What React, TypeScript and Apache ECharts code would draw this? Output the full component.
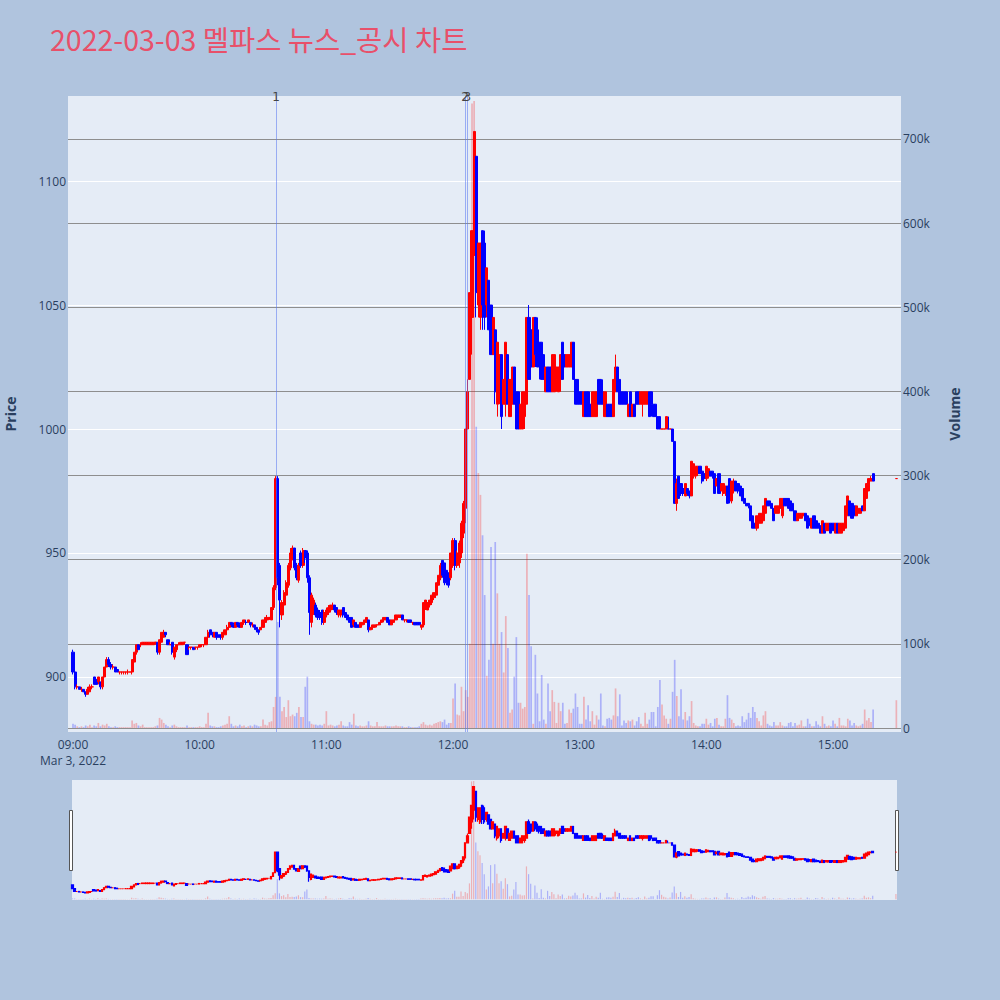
import React, { useEffect, useRef } from "react";
import * as echarts from "echarts";

const titleText = "2022-03-03 멜파스 뉴스_공시 차트";
const dateLabel = "Mar 3, 2022";
const hourTicks = [0, 60, 120, 180, 240, 300, 360];
const hourLabels = ["09:00", "10:00", "11:00", "12:00", "13:00", "14:00", "15:00"];
const priceTicks = [900, 950, 1000, 1050, 1100];
const volumeTicks = [0, 100000, 200000, 300000, 400000, 500000, 600000, 700000];
const volumeTickLabels = ["0", "100k", "200k", "300k", "400k", "500k", "600k", "700k"];
const newsMinutes = [96.2, 185.7, 186.8];
const newsLabels = ["1", "2", "3"];

// minute-by-minute candles from 09:00: [open, close, low, high]
const ohlc: number[][] = [
  [910, 902, 901, 911], [902, 896, 895, 903], [896, 896, 895, 897], [896, 895, 895, 896], [895, 895, 894, 896],
  [895, 894, 894, 895], [894, 893, 892, 894], [893, 895, 893, 896], [894, 896, 894, 897], [896, 896, 895, 897],
  [900, 897, 897, 900], [899, 897, 897, 899], [898, 900, 897, 900], [898, 896, 895, 898], [896, 900, 895, 900],
  [900, 904, 900, 904], [904, 907, 904, 908], [907, 905, 904, 908], [905, 904, 903, 906], [904, 904, 903, 905],
  [904, 902, 902, 904], [903, 902, 902, 903], [902, 902, 901, 902], [902, 902, 901, 902], [902, 902, 901, 902],
  [902, 902, 901, 902], [902, 902, 901, 903], [902, 902, 902, 902], [902, 907, 901, 907], [906, 910, 905, 910],
  [910, 913, 909, 913], [913, 911, 911, 913], [913, 913, 912, 914], [913, 914, 913, 914], [913, 914, 913, 914],
  [913, 914, 913, 914], [913, 914, 913, 914], [913, 914, 913, 914], [913, 914, 913, 914], [914, 914, 913, 914],
  [914, 910, 909, 914], [910, 915, 909, 915], [914, 918, 914, 918], [916, 918, 916, 919], [918, 917, 916, 918],
  [915, 913, 913, 915], [913, 913, 913, 914], [914, 910, 909, 914], [908, 912, 907, 912], [911, 913, 910, 913],
  [913, 913, 913, 914], [913, 914, 913, 914], [913, 914, 913, 914], [914, 914, 913, 914], [913, 909, 909, 913],
  [912, 912, 911, 912], [912, 912, 911, 912], [912, 911, 911, 912], [912, 912, 911, 912], [912, 912, 911, 912],
  [912, 913, 912, 913], [913, 913, 912, 913], [913, 913, 912, 913], [913, 916, 913, 916], [916, 918, 915, 919],
  [919, 917, 916, 919], [918, 917, 916, 918], [916, 918, 916, 918], [918, 916, 915, 918], [917, 916, 916, 917],
  [917, 916, 915, 917], [916, 918, 915, 918], [917, 919, 917, 919], [919, 920, 918, 921], [920, 922, 920, 922],
  [922, 921, 920, 922], [921, 920, 920, 922], [920, 922, 920, 922], [922, 921, 920, 922], [921, 920, 920, 922],
  [920, 922, 920, 922], [922, 923, 921, 923], [922, 922, 921, 923], [922, 923, 922, 923], [922, 921, 920, 922],
  [921, 921, 920, 922], [921, 920, 919, 921], [920, 919, 918, 920], [919, 918, 917, 919], [919, 920, 919, 920],
  [920, 923, 920, 923], [922, 924, 922, 924], [923, 924, 923, 925], [924, 924, 923, 924], [923, 928, 923, 928],
  [928, 936, 927, 937], [936, 980, 935, 981], [980, 940, 937, 981], [945, 931, 920, 946], [925, 930, 923, 931],
  [929, 934, 927, 935], [933, 938, 931, 939], [937, 945, 936, 946], [944, 950, 943, 952], [948, 952, 947, 953],
  [952, 944, 943, 952], [945, 940, 939, 946], [939, 945, 938, 946], [950, 945, 944, 951], [945, 951, 944, 952],
  [951, 948, 946, 951], [950, 940, 938, 951], [940, 926, 917, 941], [922, 933, 920, 934], [926, 931, 925, 932],
  [929, 925, 924, 930], [927, 924, 923, 928], [926, 924, 923, 927], [927, 922, 921, 927], [922, 926, 921, 927],
  [925, 927, 924, 928], [926, 928, 925, 929], [927, 929, 926, 929], [928, 929, 927, 930], [929, 927, 926, 929],
  [928, 926, 925, 928], [925, 927, 924, 927], [925, 927, 924, 927], [928, 925, 924, 928], [926, 924, 924, 926],
  [925, 923, 923, 925], [924, 922, 922, 924], [924, 920, 920, 924], [921, 923, 920, 923], [922, 920, 920, 922],
  [921, 920, 920, 921], [920, 922, 920, 922], [921, 922, 921, 922], [922, 923, 921, 923], [922, 924, 922, 924],
  [923, 919, 918, 923], [919, 920, 919, 920], [920, 921, 919, 921], [920, 921, 920, 921], [921, 921, 920, 921],
  [921, 922, 921, 922], [922, 923, 921, 923], [923, 924, 922, 924], [923, 924, 923, 924], [924, 922, 922, 924],
  [923, 921, 921, 923], [921, 923, 921, 923], [922, 923, 922, 923], [923, 925, 923, 925], [924, 925, 924, 925],
  [924, 925, 924, 925], [925, 923, 923, 925], [923, 923, 922, 923], [923, 923, 922, 923], [923, 922, 922, 923],
  [923, 922, 922, 923], [922, 922, 921, 922], [922, 921, 921, 922], [922, 921, 921, 922], [922, 921, 921, 922],
  [920, 921, 919, 921], [921, 930, 920, 930], [928, 931, 927, 931], [927, 930, 927, 930], [929, 931, 928, 931],
  [930, 933, 929, 933], [932, 934, 931, 934], [933, 938, 932, 938], [937, 941, 936, 941], [940, 945, 939, 946],
  [947, 941, 940, 947], [946, 938, 937, 946], [943, 938, 937, 943], [942, 937, 936, 942], [940, 950, 939, 950],
  [945, 955, 944, 956], [955, 945, 943, 956], [945, 950, 944, 951], [946, 954, 944, 955], [950, 962, 948, 963],
  [958, 970, 956, 971], [968, 1000, 962, 1000], [1000, 1015, 1000, 1020], [1020, 1055, 1020, 1055], [1045, 1080, 1030, 1080],
  [1070, 1120, 1050, 1120], [1110, 1055, 1045, 1110], [1050, 1075, 1045, 1075], [1045, 1075, 1040, 1075], [1080, 1050, 1040, 1080],
  [1075, 1045, 1040, 1080], [1050, 1065, 1045, 1065], [1060, 1040, 1040, 1060], [1050, 1030, 1030, 1050], [1030, 1045, 1030, 1045],
  [1040, 1015, 1010, 1040], [1010, 1035, 1005, 1035], [1015, 1030, 1010, 1030], [1030, 1005, 1000, 1030], [1010, 1020, 1010, 1020],
  [1010, 1035, 1005, 1035], [1030, 1010, 1010, 1030], [1005, 1020, 1005, 1020], [1010, 1025, 1010, 1025], [1025, 1010, 1010, 1025],
  [1015, 1000, 1000, 1015], [1015, 1000, 1000, 1015], [1000, 1010, 1000, 1010], [1000, 1015, 1000, 1015], [1005, 1015, 1000, 1015],
  [1010, 1045, 1010, 1045], [1045, 1020, 1020, 1050], [1040, 1025, 1020, 1040], [1025, 1045, 1025, 1045], [1045, 1030, 1025, 1045],
  [1040, 1025, 1025, 1045], [1035, 1025, 1020, 1035], [1035, 1020, 1020, 1035], [1030, 1020, 1020, 1030], [1015, 1025, 1015, 1025],
  [1025, 1015, 1015, 1025], [1025, 1015, 1015, 1025], [1015, 1030, 1015, 1030], [1015, 1030, 1015, 1030], [1020, 1025, 1015, 1025],
  [1015, 1025, 1015, 1025], [1020, 1030, 1015, 1030], [1035, 1020, 1020, 1035], [1030, 1025, 1025, 1030], [1025, 1030, 1025, 1030],
  [1025, 1030, 1025, 1030], [1025, 1035, 1025, 1035], [1035, 1020, 1020, 1035], [1020, 1010, 1010, 1020], [1020, 1010, 1010, 1020],
  [1015, 1010, 1010, 1015], [1015, 1010, 1010, 1015], [1005, 1015, 1005, 1015], [1015, 1005, 1005, 1015], [1015, 1005, 1005, 1015],
  [1010, 1005, 1005, 1010], [1005, 1015, 1005, 1015], [1005, 1015, 1005, 1015], [1005, 1015, 1005, 1015], [1020, 1010, 1010, 1020],
  [1020, 1010, 1010, 1020], [1015, 1010, 1010, 1020], [1005, 1015, 1005, 1015], [1010, 1005, 1005, 1010], [1010, 1005, 1005, 1010],
  [1010, 1005, 1005, 1010], [1005, 1020, 1005, 1020], [1015, 1025, 1015, 1030], [1025, 1015, 1015, 1025], [1020, 1010, 1010, 1020],
  [1015, 1010, 1010, 1015], [1015, 1010, 1010, 1015], [1015, 1010, 1010, 1015], [1005, 1010, 1005, 1010], [1015, 1005, 1005, 1015],
  [1005, 1010, 1005, 1010], [1010, 1005, 1005, 1010], [1015, 1010, 1010, 1015], [1015, 1010, 1010, 1015], [1010, 1015, 1010, 1015],
  [1010, 1015, 1005, 1015], [1010, 1015, 1010, 1015], [1010, 1015, 1010, 1015], [1015, 1005, 1005, 1015], [1015, 1010, 1005, 1015],
  [1010, 1005, 1005, 1010], [1010, 1005, 1005, 1010], [1005, 1000, 1000, 1005], [1005, 1000, 1000, 1005], [1000, 1000, 1000, 1000],
  [1000, 1000, 1000, 1000], [1000, 1005, 1000, 1005], [1000, 1000, 1000, 1005], [1000, 1000, 1000, 1000], [1000, 995, 995, 1000],
  [995, 970, 970, 995], [970, 978, 967, 980], [981, 972, 972, 981], [978, 974, 973, 978], [976, 974, 973, 976],
  [973, 978, 973, 978], [976, 974, 973, 976], [975, 973, 972, 975], [973, 987, 973, 987], [981, 986, 980, 986],
  [981, 985, 980, 985], [982, 985, 981, 985], [985, 982, 982, 985], [983, 979, 978, 983], [982, 980, 979, 982],
  [980, 985, 979, 985], [981, 984, 980, 984], [983, 981, 981, 983], [983, 981, 980, 983], [982, 974, 974, 982],
  [977, 980, 977, 980], [982, 974, 974, 982], [975, 978, 975, 978], [974, 978, 973, 978], [975, 977, 973, 977],
  [977, 970, 970, 977], [980, 971, 970, 980], [971, 979, 970, 979], [975, 979, 974, 980], [979, 975, 975, 979],
  [978, 975, 974, 978], [977, 973, 973, 977], [976, 971, 971, 976], [972, 970, 970, 972], [970, 969, 969, 970],
  [970, 969, 968, 970], [969, 963, 963, 969], [965, 960, 960, 965], [962, 960, 960, 962], [960, 965, 959, 965],
  [962, 966, 961, 966], [962, 966, 962, 966], [963, 969, 963, 969], [966, 972, 966, 972], [971, 969, 969, 971],
  [971, 969, 969, 971], [970, 968, 968, 970], [968, 963, 963, 968], [966, 969, 966, 969], [966, 969, 966, 969],
  [968, 972, 968, 972], [965, 972, 964, 972], [972, 969, 969, 972], [972, 969, 969, 972], [972, 968, 968, 972],
  [971, 967, 967, 971], [970, 967, 967, 970], [967, 963, 963, 967], [963, 966, 963, 966], [964, 966, 963, 966],
  [964, 966, 964, 966], [965, 966, 965, 966], [966, 963, 963, 966], [965, 960, 960, 965], [964, 961, 961, 964],
  [960, 964, 960, 964], [965, 960, 960, 965], [963, 960, 960, 963], [962, 960, 960, 962], [961, 958, 958, 961],
  [958, 963, 958, 963], [962, 958, 958, 962], [959, 962, 959, 962], [959, 962, 959, 962], [962, 958, 958, 962],
  [962, 959, 959, 962], [958, 962, 958, 962], [962, 958, 958, 962], [958, 962, 958, 962], [958, 962, 958, 962],
  [959, 962, 959, 962], [960, 969, 960, 969], [965, 973, 965, 973], [971, 965, 965, 971], [970, 964, 964, 970],
  [969, 965, 964, 969], [965, 969, 965, 969], [966, 968, 966, 968], [966, 968, 966, 968], [969, 967, 967, 969],
  [967, 976, 967, 976], [972, 978, 972, 978], [975, 980, 975, 980], [979, 980, 979, 981], [982, 979, 979, 982],
];

// minute volumes in thousands, aligned with ohlc
const volumesK: number[] = [
  5, 4, 2, 1, 2, 1, 3, 2, 4, 1,
  3, 2, 6, 2, 4, 3, 5, 2, 1, 1,
  2, 1, 1, 1, 1, 1, 1, 1, 9, 5,
  6, 3, 2, 4, 1, 1, 1, 1, 1, 2,
  3, 12, 10, 6, 4, 2, 1, 3, 4, 2,
  1, 1, 1, 1, 3, 1, 1, 1, 1, 1,
  2, 1, 1, 5, 18, 3, 2, 2, 1, 1,
  2, 3, 4, 5, 14, 5, 2, 3, 2, 4,
  2, 3, 1, 2, 3, 2, 4, 3, 2, 2,
  10, 4, 3, 7, 8, 25, 37, 126, 37, 20,
  25, 13, 33, 14, 16, 14, 18, 25, 13, 13,
  49, 61, 8, 5, 4, 4, 3, 4, 3, 5,
  20, 3, 4, 3, 2, 3, 4, 8, 3, 2,
  2, 7, 4, 17, 3, 2, 3, 2, 2, 3,
  8, 3, 2, 2, 7, 2, 2, 2, 3, 2,
  2, 2, 2, 3, 2, 2, 2, 1, 1, 2,
  1, 1, 1, 1, 2, 5, 7, 4, 3, 4,
  3, 5, 6, 7, 8, 7, 10, 4, 6, 6,
  35, 53, 16, 15, 49, 20, 45, 37, 100, 742,
  745, 358, 303, 277, 229, 158, 62, 81, 215, 100,
  221, 160, 100, 114, 66, 133, 95, 18, 22, 61,
  108, 30, 30, 23, 25, 207, 158, 97, 5, 87,
  41, 8, 63, 10, 5, 53, 20, 45, 31, 6,
  30, 20, 30, 5, 6, 22, 18, 23, 41, 25,
  5, 5, 37, 10, 27, 8, 20, 4, 15, 10,
  41, 3, 2, 11, 12, 10, 15, 47, 14, 40,
  3, 9, 6, 9, 8, 10, 3, 8, 13, 5,
  2, 18, 5, 10, 19, 19, 2, 25, 57, 28,
  15, 11, 5, 11, 43, 81, 38, 14, 46, 10,
  19, 9, 14, 32, 6, 3, 2, 2, 5, 5,
  11, 4, 6, 2, 11, 12, 4, 2, 2, 11,
  39, 12, 10, 6, 2, 3, 2, 14, 7, 10,
  18, 12, 25, 19, 12, 8, 3, 15, 20, 5,
  3, 2, 7, 3, 3, 7, 3, 2, 2, 6,
  7, 2, 6, 3, 4, 9, 2, 2, 11, 5,
  2, 2, 8, 4, 2, 14, 5, 2, 3, 2,
  9, 5, 2, 12, 3, 3, 2, 11, 9, 3,
  6, 3, 2, 3, 5, 22, 9, 12, 7, 22,
];

// closing auction at 15:30
const auctionMinute = 390;
const auctionOhlc = [980, 980, 980, 980];
const auctionVolumeK = 33;

const UP = "#ff0000";
const DOWN = "#0000ff";
const UP_VOL = "rgba(255,0,0,0.25)";
const DOWN_VOL = "rgba(0,0,255,0.25)";
const AXIS_TEXT = "#2a3f5f";
const FONT = "'Open Sans', 'Noto Sans', sans-serif";

const PRICE_MIN = 877.8;
const PRICE_MAX = 1134.3;
const VOL_MIN = -4750;
const VOL_MAX = 751000;

function buildData() {
  const rows: { m: number; o: number[]; v: number }[] = ohlc.map((o, i) => ({ m: i, o, v: volumesK[i] }));
  rows.push({ m: auctionMinute, o: auctionOhlc, v: auctionVolumeK });
  const candles: number[][] = [];
  const vols: any[] = [];
  let prevClose = rows[0].o[0];
  rows.forEach((r) => {
    const [o, c, l, h] = r.o;
    candles.push([r.m, o, c, l, h]);
    let up: boolean;
    if (c > o) up = true;
    else if (c < o) up = false;
    else up = prevClose <= c;
    prevClose = c;
    vols.push({ value: [r.m, r.v * 1000], itemStyle: { color: up ? UP_VOL : DOWN_VOL } });
  });
  return { candles, vols };
}

export default function App() {
  const ref = useRef<HTMLDivElement>(null);
  useEffect(() => {
    document.body.style.margin = "0";
    if (!ref.current) return;
    const chart = echarts.init(ref.current, undefined, { renderer: "svg" });
    const { candles, vols } = buildData();
    const option: any = {
      animation: false,
      backgroundColor: "#b0c4de",
      title: {
        text: titleText,
        left: 45,
        top: 19,
        textStyle: { color: "#e8506a", fontSize: 28.5, fontWeight: "normal", fontFamily: "'Noto Sans CJK KR', 'Open Sans', sans-serif" },
      },
      grid: [
        { left: 68, top: 96, width: 833, height: 636, show: true, backgroundColor: "#e5ecf6", borderWidth: 0, outerBoundsMode: "none", containLabel: false },
        { left: 72, top: 780, width: 825, height: 120, show: true, backgroundColor: "#e5ecf6", borderWidth: 0, outerBoundsMode: "none", containLabel: false },
      ],
      xAxis: [
        {
          type: "value",
          gridIndex: 0,
          min: -2.37,
          max: 392.2,
          axisLine: { show: false },
          axisTick: { show: false, customValues: hourTicks },
          splitLine: { show: false },
          axisLabel: {
            customValues: hourTicks,
            margin: 4,
            color: AXIS_TEXT,
            fontSize: 12,
            fontFamily: FONT,
            lineHeight: 16,
            formatter: (v: number) => {
              const idx = hourTicks.indexOf(v);
              const t = idx >= 0 ? hourLabels[idx] : "";
              return v === 0 ? t + "\n" + dateLabel : t;
            },
          },
        },
        {
          type: "value",
          gridIndex: 1,
          min: -0.25,
          max: 390.5,
          show: false,
          splitLine: { show: false },
        },
      ],
      yAxis: [
        {
          type: "value",
          gridIndex: 0,
          position: "left",
          min: PRICE_MIN,
          max: PRICE_MAX,
          name: "Price",
          nameLocation: "middle",
          nameGap: 51,
          nameRotate: 90,
          nameTextStyle: { color: AXIS_TEXT, fontSize: 14, fontWeight: "bold", fontFamily: FONT },
          axisLine: { show: false },
          axisTick: { show: false, customValues: priceTicks },
          axisLabel: {
            customValues: priceTicks,
            margin: 2,
            color: AXIS_TEXT,
            fontSize: 12,
            fontFamily: FONT,
            formatter: (v: number) => String(Math.round(v)),
          },
          splitLine: { show: true, lineStyle: { color: "#ffffff", width: 1 } },
        },
        {
          type: "value",
          gridIndex: 0,
          position: "right",
          min: VOL_MIN,
          max: VOL_MAX,
          name: "Volume",
          nameLocation: "middle",
          nameGap: 46,
          nameRotate: 90,
          nameTextStyle: { color: AXIS_TEXT, fontSize: 14, fontWeight: "bold", fontFamily: FONT },
          axisLine: { show: false },
          axisTick: { show: false, customValues: volumeTicks },
          axisLabel: {
            customValues: volumeTicks,
            margin: 2,
            color: AXIS_TEXT,
            fontSize: 12,
            fontFamily: FONT,
            formatter: (v: number) => {
              const idx = volumeTicks.indexOf(v);
              return idx >= 0 ? volumeTickLabels[idx] : "";
            },
          },
          splitLine: { show: true, lineStyle: { color: "#8e8e8e", width: 1 } },
        },
        { type: "value", gridIndex: 1, min: PRICE_MIN, max: PRICE_MAX, show: false, splitLine: { show: false } },
        { type: "value", gridIndex: 1, min: VOL_MIN, max: VOL_MAX, show: false, splitLine: { show: false } },
      ],
      series: [
        {
          type: "bar",
          name: "Volume",
          xAxisIndex: 0,
          yAxisIndex: 1,
          data: vols,
          barWidth: 1.7,
          z: 1,
        },
        {
          type: "candlestick",
          name: "Price",
          xAxisIndex: 0,
          yAxisIndex: 0,
          data: candles,
          encode: { x: 0, y: [1, 2, 3, 4] },
          barWidth: 2.6,
          z: 2,
          itemStyle: { color: UP, color0: DOWN, borderColor: UP, borderColor0: DOWN, borderWidth: 1 },
          markLine: {
            silent: true,
            symbol: ["none", "none"],
            lineStyle: { color: "rgba(90,120,240,0.55)", width: 1, type: "solid" },
            label: { show: true, position: "end", distance: -7, color: "#444", fontSize: 12, fontFamily: "'DejaVu Sans', sans-serif" },
            data: newsMinutes.map((m, i) => ({ xAxis: m, label: { formatter: newsLabels[i] } })),
          },
        },
        {
          type: "bar",
          xAxisIndex: 1,
          yAxisIndex: 3,
          data: vols,
          barWidth: 1.2,
          z: 1,
        },
        {
          type: "candlestick",
          xAxisIndex: 1,
          yAxisIndex: 2,
          data: candles,
          encode: { x: 0, y: [1, 2, 3, 4] },
          barWidth: 2,
          z: 2,
          itemStyle: { color: UP, color0: DOWN, borderColor: UP, borderColor0: DOWN, borderWidth: 1.2 },
        },
      ],
      graphic: [
        { type: "rect", shape: { x: 69.5, y: 810.5, width: 3, height: 60 }, style: { fill: "#ffffff", stroke: "#555", lineWidth: 1 } },
        { type: "rect", shape: { x: 895.5, y: 810.5, width: 3, height: 60 }, style: { fill: "#ffffff", stroke: "#555", lineWidth: 1 } },
      ],
    };
    chart.setOption(option);
    return () => chart.dispose();
  }, []);
  return <div ref={ref} style={{ width: 1000, height: 1000 }} />;
}
